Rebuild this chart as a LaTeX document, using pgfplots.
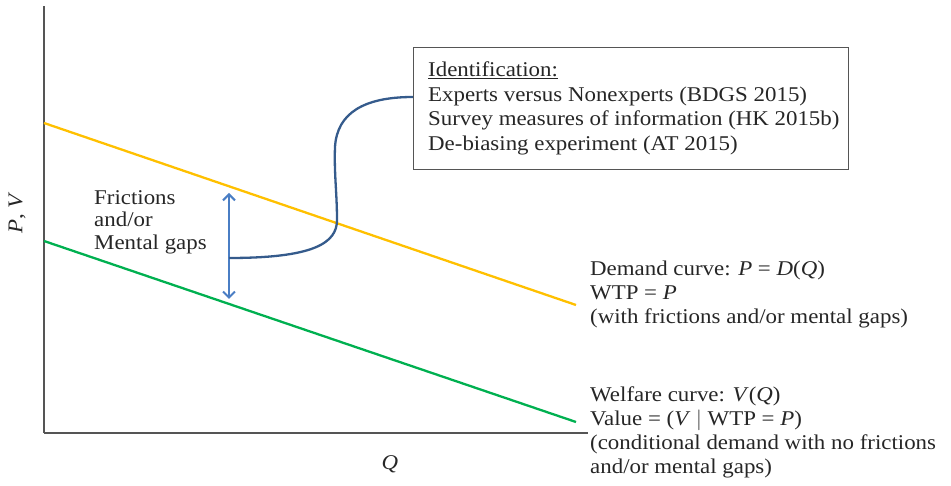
\documentclass[border=0pt]{standalone}
\usepackage{fontspec}
\setmainfont[FakeStretch=1.09]{Liberation Serif}
\usepackage{pgfplots}
\pgfplotsset{compat=1.18}
\usetikzlibrary{arrows.meta}
\definecolor{demand}{HTML}{FFC000}
\definecolor{welfare}{HTML}{00B050}
\definecolor{arrowblue}{HTML}{4A7EC4}
\definecolor{curveblue}{HTML}{355B8C}
\definecolor{axisgray}{HTML}{555555}
\begin{document}
\begin{tikzpicture}
\begin{axis}[
  scale only axis,
  width=544pt, height=427pt,
  xmin=0, xmax=544, ymin=0, ymax=427,
  axis lines*=left,
  axis line style={axisgray, line width=1.1pt},
  xtick=\empty, ytick=\empty,
  clip=false,
]
% demand (yellow) and welfare (green) curves
\addplot[demand, line width=2.3pt] coordinates {(0,310) (532,128)};
\addplot[welfare, line width=2.3pt] coordinates {(0,192) (532,11)};
% double arrow
\draw[arrowblue, line width=2pt, {Straight Barb[length=6pt,width=12pt]}-{Straight Barb[length=6pt,width=12pt]}] (axis cs:185,240) -- (axis cs:185,134);
% connector curve
\draw[curveblue, line width=2.3pt] (axis cs:185,175) .. controls (axis cs:270,175) and (axis cs:293,190) .. (axis cs:293,213)
  .. controls (axis cs:293,240) and (axis cs:290,260) .. (axis cs:291,286)
  .. controls (axis cs:293,320) and (axis cs:320,336) .. (axis cs:369,336);
% box
\draw[axisgray, line width=1pt, fill=white] (axis cs:369,385) rectangle (axis cs:804,263);
\node[anchor=west, align=left, font=\fontsize{21}{24.5}\selectfont, inner sep=0pt, text=black!85] at (axis cs:384,324.5)
  {\underline{Identification:}\\Experts versus Nonexperts (BDGS 2015)\\Survey measures of information (HK 2015b)\\De-biasing experiment (AT 2015)};
% frictions label
\node[anchor=west, align=left, font=\fontsize{21}{22.5}\selectfont, inner sep=0pt, text=black!85] at (axis cs:50,211)
  {Frictions\\and/or\\Mental gaps};
% demand label
\node[anchor=west, align=left, font=\fontsize{21}{24}\selectfont, inner sep=0pt, text=black!85] at (axis cs:546,139)
  {Demand curve: \textit{P} = \textit{D}(\textit{Q})\\WTP = \textit{P}\\(with frictions and/or mental gaps)};
% welfare label
\node[anchor=west, align=left, font=\fontsize{21}{24}\selectfont, inner sep=0pt, text=black!85] at (axis cs:546,0.5)
  {Welfare curve: \textit{V}(\textit{Q})\\Value = (\textit{V} $|$ WTP = \textit{P})\\(conditional demand with no frictions\\and/or mental gaps)};
% axis labels
\node[font=\fontsize{21}{24}\selectfont, text=black!85] at (axis cs:346,-31) {\textit{Q}};
\node[font=\fontsize{21}{24}\selectfont, text=black!85, rotate=90] at (axis cs:-27,220) {\textit{P}, \textit{V}};
\coordinate (bl) at (axis cs:-44,-53);
\coordinate (tr) at (axis cs:907,433);
\end{axis}
\pgfresetboundingbox
\path[use as bounding box] (bl) rectangle (tr);
\end{tikzpicture}
\end{document}
